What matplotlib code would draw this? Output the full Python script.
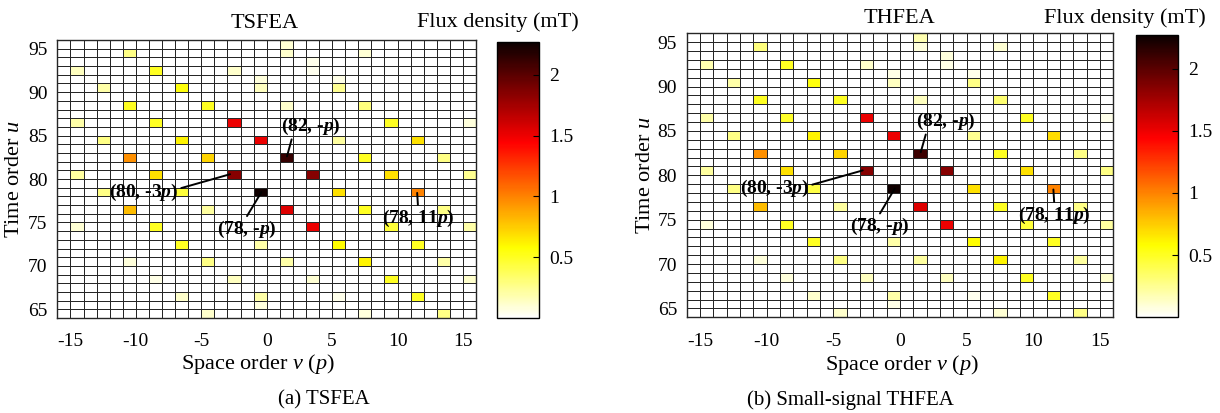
import numpy as np
import matplotlib
matplotlib.use("Agg")
import matplotlib.pyplot as plt

plt.rcParams["font.family"] = ["Liberation Serif", "DejaVu Serif"]
plt.rcParams["mathtext.fontset"] = "custom"
plt.rcParams["mathtext.rm"] = "Liberation Serif"
plt.rcParams["mathtext.it"] = "Liberation Serif:italic"
plt.rcParams["mathtext.bf"] = "Liberation Serif:italic:bold"
plt.rcParams["axes.unicode_minus"] = False

space_edges = np.arange(-16, 17)   # space order v (p)
time_edges = np.arange(64, 97)     # time order u
x_ticks = [-15, -10, -5, 0, 5, 10, 15]
y_ticks = [65, 70, 75, 80, 85, 90, 95]
cbar_ticks = [0.5, 1, 1.5, 2]
cbar_labels = ["0.5", "1", "1.5", "2"]
b_max = 2.27

# non-zero cells (lower-left corner of each pcolor cell) and flux density in mT
cell_v = [1, -11, 1, 7, 3, -15, -9, -3, 3, -1, 5,
          -13, -7, -1, 5, -11, -5, 1, 7,
          -15, -9, -3, 9, 15, -13, -7, -1, 5, 11,
          -11, -5, 1, 7, 13, -15, -9, -3, 3, 9, 15,
          -13, -7, -1, 5, 11, -11, -5, 1, 7, 13,
          -15, -9, 3, 9, 15, -7, -1, 5, 11,
          -11, -5, 1, 7, 13, -9, -3, 3, 9, 15,
          -7, -1, 5, 11, -1, -5, 7, 13]
cell_u = [95, 94, 94, 94, 93, 92, 92, 92, 92, 91, 91,
          90, 90, 90, 90, 88, 88, 88, 88,
          86, 86, 86, 86, 86, 84, 84, 84, 84, 84,
          82, 82, 82, 82, 82, 80, 80, 80, 80, 80, 80,
          78, 78, 78, 78, 78, 76, 76, 76, 76, 76,
          74, 74, 74, 74, 74, 72, 72, 72, 72,
          70, 70, 70, 70, 70, 68, 68, 68, 68, 68,
          66, 66, 66, 66, 65, 64, 64, 64]
b_tsfea = [0.10, 0.28, 0.12, 0.10, 0.05, 0.15, 0.50, 0.12, 0.04, 0.08, 0.06,
           0.20, 0.55, 0.15, 0.25, 0.50, 0.50, 0.12, 0.30,
           0.20, 0.50, 1.50, 0.50, 0.08, 0.28, 0.62, 1.50, 0.22, 0.68,
           0.95, 0.72, 2.12, 0.50, 0.28, 0.22, 0.68, 1.85, 1.85, 0.68, 0.25,
           0.28, 0.45, 2.25, 0.68, 1.00, 0.80, 0.22, 1.55, 0.50, 0.28,
           0.10, 0.50, 1.50, 0.45, 0.20, 0.50, 0.20, 0.58, 0.50,
           0.08, 0.28, 0.20, 0.62, 0.20, 0.06, 0.15, 0.10, 0.50, 0.12,
           0.12, 0.20, 0.05, 0.50, 0.08, 0.12, 0.08, 0.28]
b_thfea = [0.18, 0.30, 0.08, 0.10, 0.08, 0.18, 0.50, 0.12, 0.06, 0.06, 0.05,
           0.20, 0.55, 0.15, 0.28, 0.50, 0.50, 0.15, 0.32,
           0.20, 0.48, 1.50, 0.50, 0.05, 0.28, 0.62, 1.50, 0.25, 0.70,
           0.95, 0.72, 2.10, 0.50, 0.28, 0.22, 0.68, 1.85, 1.85, 0.68, 0.28,
           0.28, 0.42, 2.25, 0.68, 1.00, 0.80, 0.22, 1.55, 0.50, 0.28,
           0.08, 0.50, 1.50, 0.45, 0.22, 0.50, 0.20, 0.58, 0.50,
           0.08, 0.28, 0.22, 0.62, 0.22, 0.08, 0.15, 0.15, 0.50, 0.12,
           0.12, 0.20, 0.04, 0.50, 0.06, 0.12, 0.10, 0.28]

# annotated harmonics: label, target point, text point, line anchor on text
notes = [
    (r"(82, -$\mathbf{p}$)", (1.55, 82.6), (3.4, 86.1), (0.2, 0.15)),
    (r"(80, -3$\mathbf{p}$)", (-2.8, 80.55), (-9.4, 78.5), (1.0, 0.65)),
    (r"(78, -$\mathbf{p}$)", (-0.4, 78.5), (-1.5, 74.2), (0.45, 0.9)),
    (r"(78, 11$\mathbf{p}$)", (11.5, 78.4), (11.6, 75.5), (0.5, 0.7)),
]


def to_grid(values):
    grid = np.zeros((len(time_edges) - 1, len(space_edges) - 1))
    for v, u, b in zip(cell_v, cell_u, values):
        grid[u - time_edges[0], v - space_edges[0]] = b
    return grid


def draw_panel(fig, ax_rect, cbar_rect, values):
    ax = fig.add_axes(ax_rect)
    mesh = ax.pcolormesh(space_edges, time_edges, to_grid(values), cmap="hot_r",
                         vmin=0, vmax=b_max, edgecolors="#262626", linewidth=0.6)
    ax.set_xlim(space_edges[0], space_edges[-1])
    ax.set_ylim(time_edges[0], time_edges[-1])
    ax.set_xticks(x_ticks)
    ax.set_yticks(y_ticks)
    ax.tick_params(axis="both", direction="in", length=0, labelsize=14)
    ax.tick_params(axis="x", pad=11)
    ax.tick_params(axis="y", pad=7)
    for s in ax.spines.values():
        s.set_linewidth(1.0)
        s.set_color("#262626")
    for label, xy, xytext, rel in notes:
        ax.annotate(label, xy=xy, xytext=xytext, ha="center", va="center",
                    fontsize=14, fontweight="bold",
                    arrowprops=dict(arrowstyle="-", color="k", lw=1.4,
                                    shrinkA=0, shrinkB=0, relpos=rel))
    cax = fig.add_axes(cbar_rect)
    cb = fig.colorbar(mesh, cax=cax, ticks=cbar_ticks)
    cb.ax.set_yticklabels(cbar_labels)
    cb.ax.tick_params(direction="in", length=4, labelsize=14, pad=7)
    cb.outline.set_linewidth(1.0)
    return ax


fig = plt.figure(figsize=(12.2, 4.13), dpi=100)

draw_panel(fig, [0.0470, 0.2300, 0.3432, 0.6731], [0.4076, 0.2293, 0.0344, 0.6697], b_tsfea)
draw_panel(fig, [0.5629, 0.2317, 0.3497, 0.6877], [0.9309, 0.2317, 0.0349, 0.6835], b_thfea)

fig.text(0.2172, 0.9419, "TSFEA", ha="center", va="center", fontsize=16)
fig.text(0.4078, 0.9467, "Flux density (mT)", ha="center", va="center", fontsize=16)
fig.text(0.0115, 0.5666, r"Time order $u$", ha="center", va="center", rotation=90, fontsize=16)
fig.text(0.2111, 0.1186, r"Space order $v$ ($p$)", ha="center", va="center", fontsize=16)
fig.text(0.2652, 0.0315, "(a) TSFEA", ha="center", va="center", fontsize=15)

fig.text(0.7369, 0.9564, "THFEA", ha="center", va="center", fontsize=16)
fig.text(0.9221, 0.9564, "Flux density (mT)", ha="center", va="center", fontsize=16)
fig.text(0.5295, 0.5763, r"Time order $u$", ha="center", va="center", rotation=90, fontsize=16)
fig.text(0.7391, 0.1162, r"Space order $v$ ($p$)", ha="center", va="center", fontsize=16)
fig.text(0.6974, 0.0315, "(b) Small-signal THFEA", ha="center", va="center", fontsize=15)

fig.savefig("out.png", dpi=100)
